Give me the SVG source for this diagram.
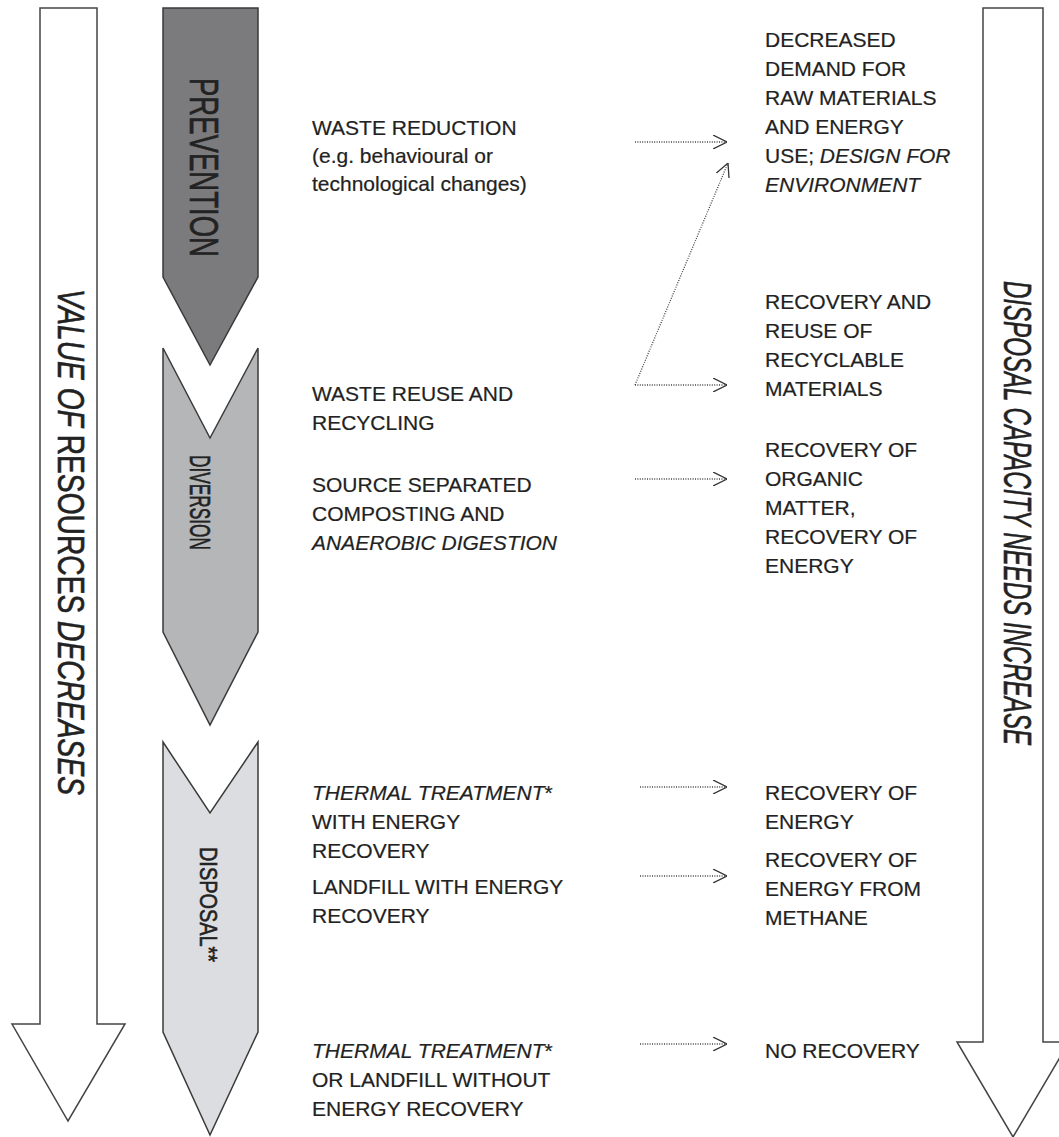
<svg xmlns="http://www.w3.org/2000/svg" width="1059" height="1137" viewBox="0 0 1059 1137">
<style>
.big{fill:#fff;stroke:#444;stroke-width:1.5}
.chev{stroke:#3a3a3a;stroke-width:1.5}
.t{font-family:"Liberation Sans",Arial,sans-serif;font-size:21px;fill:#222;stroke:#222;stroke-width:0.2}
.vt{font-family:"Liberation Sans",Arial,sans-serif;fill:#222;stroke:#222;stroke-width:0.6}
.i{font-style:italic}
.dot{fill:none;stroke:#444;stroke-width:1.3;stroke-dasharray:1 1.4}
</style>
<defs>
<marker id="head" viewBox="0 0 14 14" refX="14" refY="7" markerWidth="14" markerHeight="14" markerUnits="userSpaceOnUse" orient="auto">
<path d="M0,0 L14,7 L0,14" fill="none" stroke="#333" stroke-width="1.3"/>
</marker>
</defs>
<rect width="1059" height="1137" fill="#fff"/>

<g id="value-arrow">
<polygon class="big" points="40,8 97,8 97,1024 125,1024 68,1121 12,1024 40,1024"/>
<text class="vt" font-size="37" transform="translate(58,289) rotate(90)" textLength="506" lengthAdjust="spacingAndGlyphs"><tspan class="i">VALUE OF</tspan> RESOURCES <tspan class="i">DECREASES</tspan></text>
</g>

<g id="capacity-arrow">
<polygon class="big" points="983,8 1043,8 1043,1042 1069,1042 1013,1137 957,1042 983,1042"/>
<text class="vt i" font-size="38" transform="translate(1004,281) rotate(90)" textLength="464" lengthAdjust="spacingAndGlyphs">DISPOSAL CAPACITY NEEDS INCREASE</text>
</g>

<g id="prevention">
<polygon class="chev" fill="#7b7b7d" points="163,8 258,8 258,277 210,365 163,277"/>
<text class="vt" font-size="41" transform="translate(190,78) rotate(90)" textLength="179" lengthAdjust="spacingAndGlyphs">PREVENTION</text>
</g>

<g id="diversion">
<polygon class="chev" fill="#b5b6b8" points="163,348 210,438 258,348 258,632 210,725 163,632"/>
<text class="vt" font-size="30" transform="translate(190,455) rotate(90)" textLength="95" lengthAdjust="spacingAndGlyphs">DIVERSION</text>
</g>

<g id="disposal">
<polygon class="chev" fill="#dcdde0" points="163,742 210,813 258,742 258,1032 210,1135 163,1032"/>
<text class="vt" font-size="23" transform="translate(200,847) rotate(90)" textLength="115" lengthAdjust="spacingAndGlyphs">DISPOSAL**</text>
</g>

<g id="waste-reduction">
<text class="t" x="312" y="135">WASTE REDUCTION</text>
<text class="t" x="312" y="163">(e.g. behavioural or</text>
<text class="t" x="312" y="191">technological changes)</text>
</g>

<g id="reuse-recycling">
<text class="t" x="312" y="401">WASTE REUSE AND</text>
<text class="t" x="312" y="430">RECYCLING</text>
</g>

<g id="composting">
<text class="t" x="312" y="492">SOURCE SEPARATED</text>
<text class="t" x="312" y="521">COMPOSTING AND</text>
<text class="t i" x="312" y="550">ANAEROBIC DIGESTION</text>
</g>

<g id="thermal-recovery">
<text class="t" x="312" y="800"><tspan class="i">THERMAL TREATMENT</tspan>*</text>
<text class="t" x="312" y="829">WITH ENERGY</text>
<text class="t" x="312" y="858">RECOVERY</text>
</g>

<g id="landfill-recovery">
<text class="t" x="312" y="894">LANDFILL WITH ENERGY</text>
<text class="t" x="312" y="923">RECOVERY</text>
</g>

<g id="no-recovery-source">
<text class="t" x="312" y="1058"><tspan class="i">THERMAL TREATMENT</tspan>*</text>
<text class="t" x="312" y="1087">OR LANDFILL WITHOUT</text>
<text class="t" x="312" y="1116">ENERGY RECOVERY</text>
</g>

<g id="decreased-demand">
<text class="t" x="765" y="47">DECREASED</text>
<text class="t" x="765" y="76">DEMAND FOR</text>
<text class="t" x="765" y="105">RAW MATERIALS</text>
<text class="t" x="765" y="134">AND ENERGY</text>
<text class="t" x="765" y="163">USE; <tspan class="i">DESIGN FOR</tspan></text>
<text class="t i" x="765" y="192">ENVIRONMENT</text>
</g>

<g id="recovery-reuse">
<text class="t" x="765" y="309">RECOVERY AND</text>
<text class="t" x="765" y="338">REUSE OF</text>
<text class="t" x="765" y="367">RECYCLABLE</text>
<text class="t" x="765" y="396">MATERIALS</text>
</g>

<g id="recovery-organic">
<text class="t" x="765" y="457">RECOVERY OF</text>
<text class="t" x="765" y="486">ORGANIC</text>
<text class="t" x="765" y="515">MATTER,</text>
<text class="t" x="765" y="544">RECOVERY OF</text>
<text class="t" x="765" y="573">ENERGY</text>
</g>

<g id="recovery-energy">
<text class="t" x="765" y="800">RECOVERY OF</text>
<text class="t" x="765" y="829">ENERGY</text>
</g>

<g id="recovery-methane">
<text class="t" x="765" y="867">RECOVERY OF</text>
<text class="t" x="765" y="896">ENERGY FROM</text>
<text class="t" x="765" y="925">METHANE</text>
</g>

<g id="no-recovery">
<text class="t" x="765" y="1058">NO RECOVERY</text>
</g>

<g id="connectors">
<line class="dot" x1="635" y1="142" x2="727" y2="142" marker-end="url(#head)"/>
<line class="dot" x1="635" y1="385" x2="727" y2="385" marker-end="url(#head)"/>
<line class="dot" x1="635" y1="385" x2="728" y2="163" marker-end="url(#head)"/>
<line class="dot" x1="635" y1="479" x2="727" y2="479" marker-end="url(#head)"/>
<line class="dot" x1="640" y1="787" x2="727" y2="787" marker-end="url(#head)"/>
<line class="dot" x1="640" y1="876" x2="727" y2="876" marker-end="url(#head)"/>
<line class="dot" x1="640" y1="1044" x2="727" y2="1044" marker-end="url(#head)"/>
</g>
</svg>
